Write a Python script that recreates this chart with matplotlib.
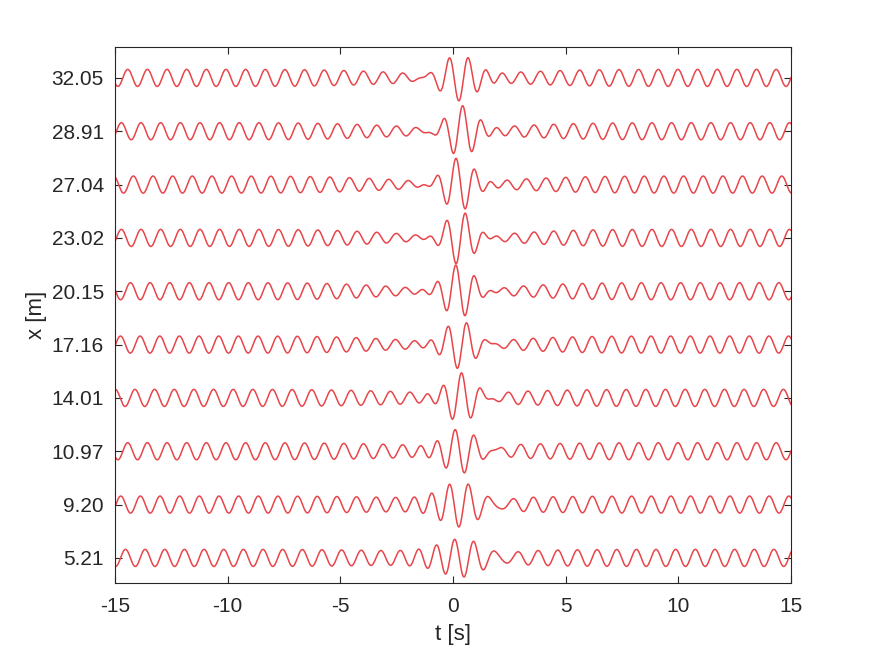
import numpy as np
import matplotlib
matplotlib.use('Agg')
import matplotlib.pyplot as plt

# ---- data ----
offset_labels = ['5.21', '9.20', '10.97', '14.01', '17.16',
                 '20.15', '23.02', '27.04', '28.91', '32.05']
# background (regular) wave per trace
bg_amp = [0.16, 0.16, 0.16, 0.16, 0.16, 0.16, 0.16, 0.16, 0.16, 0.16]
bg_peak_t = [4.65, 4.44, 4.75, 5.07, 5.30, 4.87, 5.34, 5.00, 5.34, 4.75]
bg_period = 0.872
bg_notch_depth = [0.25, 0.25, 0.30, 0.35, 0.60, 0.70, 0.70, 0.60, 0.55, 0.50]
bg_notch_width = [3.0, 3.0, 3.0, 3.0, 2.8, 2.8, 2.8, 3.0, 3.0, 3.0]
bg_gap_width = 0.9
# central wave group per trace
pk_amp = [0.36, 0.42, 0.42, 0.47, 0.45, 0.50, 0.50, 0.50, 0.48, 0.43]
pk_center = [0.35, 0.28, 0.30, 0.35, 0.30, 0.25, 0.30, 0.25, 0.38, 0.26]
pk_width = [1.10, 1.00, 0.85, 0.70, 0.72, 0.70, 0.65, 0.70, 0.70, 0.85]
pk_crest_t = [0.07, 0.68, 0.09, 0.38, 0.61, 0.12, 0.55, 0.13, 0.43, 0.68]
pk_period = 0.84

t_min, t_max = -15, 15
t = np.linspace(t_min, t_max, 4001)

fams = ['Liberation Sans', 'DejaVu Sans']
plt.rcParams['font.family'] = fams

fig = plt.figure(figsize=(8.75, 6.56), dpi=100)
ax = fig.add_axes([0.1314, 0.1113, 0.7726, 0.8171])

line_color = '#e8454a'
for i, lab in enumerate(offset_labels):
    notch = 1 - bg_notch_depth[i] * np.exp(-(t ** 2) / (2 * bg_notch_width[i] ** 2))
    gap = 1 - np.exp(-((t - pk_center[i]) ** 2) / (2 * bg_gap_width ** 2))
    bg = bg_amp[i] * notch * gap * np.cos(2 * np.pi * (t - bg_peak_t[i]) / bg_period)
    env = pk_amp[i] * np.exp(-((t - pk_center[i]) ** 2) / (2 * pk_width[i] ** 2))
    pk = env * np.cos(2 * np.pi * (t - pk_crest_t[i]) / pk_period)
    ax.plot(t, (i + 1) + bg + pk, color=line_color, lw=1.1)

txt = '#262626'
ax.set_xlim(t_min, t_max)
ax.set_ylim(0.53, 10.58)
ax.set_xticks(np.arange(-15, 16, 5))
ax.set_xticklabels([str(v) for v in range(-15, 16, 5)])
ax.set_yticks(np.arange(1, len(offset_labels) + 1))
ax.set_yticklabels(offset_labels)
ax.tick_params(direction='in', length=5, width=0.8, colors=txt,
               labelsize=15, top=True, right=True)
ax.tick_params(axis='x', pad=10)
ax.tick_params(axis='y', pad=8)
for s in ax.spines.values():
    s.set_color(txt)
    s.set_linewidth(0.8)
ax.set_xlabel('t [s]', fontsize=16, color=txt, labelpad=6)
ax.set_ylabel('x [m]', fontsize=16, color=txt, labelpad=3.5)

fig.savefig('out.png', dpi=100)
